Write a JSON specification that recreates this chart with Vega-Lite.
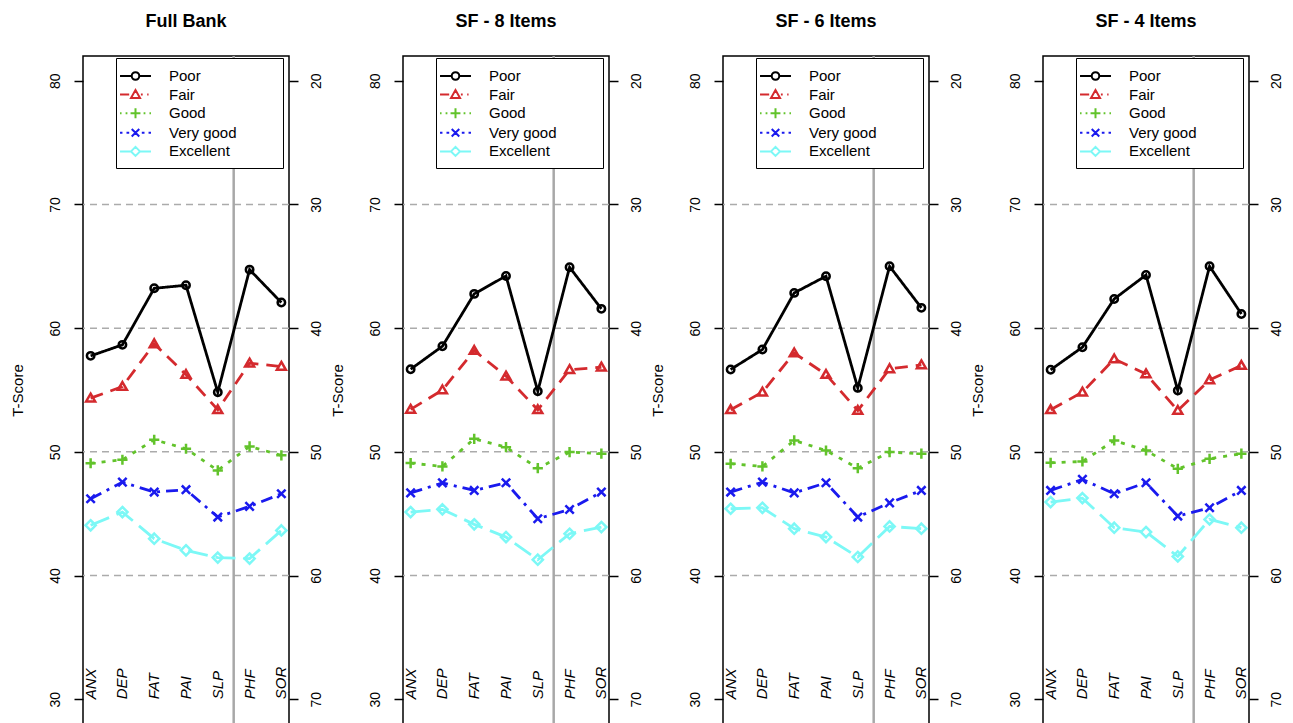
{
  "$schema": "https://vega.github.io/schema/vega-lite/v6.json",
  "background": "white",
  "padding": {"left": 9, "top": 12, "right": 5, "bottom": 0},
  "spacing": 4,
  "datasets": {
    "d": [
      {"p":"Full Bank","s":"Poor","k":"ANX","i":1,"t":57.76},{"p":"Full Bank","s":"Poor","k":"DEP","i":2,"t":58.65},{"p":"Full Bank","s":"Poor","k":"FAT","i":3,"t":63.22},{"p":"Full Bank","s":"Poor","k":"PAI","i":4,"t":63.47},{"p":"Full Bank","s":"Poor","k":"SLP","i":5,"t":54.82},{"p":"Full Bank","s":"Poor","k":"PHF","i":6,"t":64.73},{"p":"Full Bank","s":"Poor","k":"SOR","i":7,"t":62.07},
      {"p":"Full Bank","s":"Fair","k":"ANX","i":1,"t":54.34},{"p":"Full Bank","s":"Fair","k":"DEP","i":2,"t":55.28},{"p":"Full Bank","s":"Fair","k":"FAT","i":3,"t":58.73},{"p":"Full Bank","s":"Fair","k":"PAI","i":4,"t":56.25},{"p":"Full Bank","s":"Fair","k":"SLP","i":5,"t":53.40},{"p":"Full Bank","s":"Fair","k":"PHF","i":6,"t":57.17},{"p":"Full Bank","s":"Fair","k":"SOR","i":7,"t":56.90},
      {"p":"Full Bank","s":"Good","k":"ANX","i":1,"t":49.08},{"p":"Full Bank","s":"Good","k":"DEP","i":2,"t":49.36},{"p":"Full Bank","s":"Good","k":"FAT","i":3,"t":50.98},{"p":"Full Bank","s":"Good","k":"PAI","i":4,"t":50.25},{"p":"Full Bank","s":"Good","k":"SLP","i":5,"t":48.50},{"p":"Full Bank","s":"Good","k":"PHF","i":6,"t":50.44},{"p":"Full Bank","s":"Good","k":"SOR","i":7,"t":49.72},
      {"p":"Full Bank","s":"Very good","k":"ANX","i":1,"t":46.21},{"p":"Full Bank","s":"Very good","k":"DEP","i":2,"t":47.55},{"p":"Full Bank","s":"Very good","k":"FAT","i":3,"t":46.75},{"p":"Full Bank","s":"Very good","k":"PAI","i":4,"t":46.94},{"p":"Full Bank","s":"Very good","k":"SLP","i":5,"t":44.73},{"p":"Full Bank","s":"Very good","k":"PHF","i":6,"t":45.59},{"p":"Full Bank","s":"Very good","k":"SOR","i":7,"t":46.61},
      {"p":"Full Bank","s":"Excellent","k":"ANX","i":1,"t":44.06},{"p":"Full Bank","s":"Excellent","k":"DEP","i":2,"t":45.13},{"p":"Full Bank","s":"Excellent","k":"FAT","i":3,"t":42.98},{"p":"Full Bank","s":"Excellent","k":"PAI","i":4,"t":42.04},{"p":"Full Bank","s":"Excellent","k":"SLP","i":5,"t":41.45},{"p":"Full Bank","s":"Excellent","k":"PHF","i":6,"t":41.37},{"p":"Full Bank","s":"Excellent","k":"SOR","i":7,"t":43.65},

      {"p":"SF - 8 Items","s":"Poor","k":"ANX","i":1,"t":56.68},{"p":"SF - 8 Items","s":"Poor","k":"DEP","i":2,"t":58.54},{"p":"SF - 8 Items","s":"Poor","k":"FAT","i":3,"t":62.77},{"p":"SF - 8 Items","s":"Poor","k":"PAI","i":4,"t":64.22},{"p":"SF - 8 Items","s":"Poor","k":"SLP","i":5,"t":54.90},{"p":"SF - 8 Items","s":"Poor","k":"PHF","i":6,"t":64.92},{"p":"SF - 8 Items","s":"Poor","k":"SOR","i":7,"t":61.56},
      {"p":"SF - 8 Items","s":"Fair","k":"ANX","i":1,"t":53.43},{"p":"SF - 8 Items","s":"Fair","k":"DEP","i":2,"t":55.00},{"p":"SF - 8 Items","s":"Fair","k":"FAT","i":3,"t":58.19},{"p":"SF - 8 Items","s":"Fair","k":"PAI","i":4,"t":56.12},{"p":"SF - 8 Items","s":"Fair","k":"SLP","i":5,"t":53.40},{"p":"SF - 8 Items","s":"Fair","k":"PHF","i":6,"t":56.64},{"p":"SF - 8 Items","s":"Fair","k":"SOR","i":7,"t":56.84},
      {"p":"SF - 8 Items","s":"Good","k":"ANX","i":1,"t":49.09},{"p":"SF - 8 Items","s":"Good","k":"DEP","i":2,"t":48.82},{"p":"SF - 8 Items","s":"Good","k":"FAT","i":3,"t":51.05},{"p":"SF - 8 Items","s":"Good","k":"PAI","i":4,"t":50.38},{"p":"SF - 8 Items","s":"Good","k":"SLP","i":5,"t":48.68},{"p":"SF - 8 Items","s":"Good","k":"PHF","i":6,"t":49.98},{"p":"SF - 8 Items","s":"Good","k":"SOR","i":7,"t":49.85},
      {"p":"SF - 8 Items","s":"Very good","k":"ANX","i":1,"t":46.68},{"p":"SF - 8 Items","s":"Very good","k":"DEP","i":2,"t":47.49},{"p":"SF - 8 Items","s":"Very good","k":"FAT","i":3,"t":46.88},{"p":"SF - 8 Items","s":"Very good","k":"PAI","i":4,"t":47.50},{"p":"SF - 8 Items","s":"Very good","k":"SLP","i":5,"t":44.59},{"p":"SF - 8 Items","s":"Very good","k":"PHF","i":6,"t":45.34},{"p":"SF - 8 Items","s":"Very good","k":"SOR","i":7,"t":46.75},
      {"p":"SF - 8 Items","s":"Excellent","k":"ANX","i":1,"t":45.13},{"p":"SF - 8 Items","s":"Excellent","k":"DEP","i":2,"t":45.35},{"p":"SF - 8 Items","s":"Excellent","k":"FAT","i":3,"t":44.14},{"p":"SF - 8 Items","s":"Excellent","k":"PAI","i":4,"t":43.11},{"p":"SF - 8 Items","s":"Excellent","k":"SLP","i":5,"t":41.28},{"p":"SF - 8 Items","s":"Excellent","k":"PHF","i":6,"t":43.38},{"p":"SF - 8 Items","s":"Excellent","k":"SOR","i":7,"t":43.92},

      {"p":"SF - 6 Items","s":"Poor","k":"ANX","i":1,"t":56.66},{"p":"SF - 6 Items","s":"Poor","k":"DEP","i":2,"t":58.27},{"p":"SF - 6 Items","s":"Poor","k":"FAT","i":3,"t":62.85},{"p":"SF - 6 Items","s":"Poor","k":"PAI","i":4,"t":64.20},{"p":"SF - 6 Items","s":"Poor","k":"SLP","i":5,"t":55.17},{"p":"SF - 6 Items","s":"Poor","k":"PHF","i":6,"t":65.00},{"p":"SF - 6 Items","s":"Poor","k":"SOR","i":7,"t":61.64},
      {"p":"SF - 6 Items","s":"Fair","k":"ANX","i":1,"t":53.40},{"p":"SF - 6 Items","s":"Fair","k":"DEP","i":2,"t":54.82},{"p":"SF - 6 Items","s":"Fair","k":"FAT","i":3,"t":57.99},{"p":"SF - 6 Items","s":"Fair","k":"PAI","i":4,"t":56.25},{"p":"SF - 6 Items","s":"Fair","k":"SLP","i":5,"t":53.34},{"p":"SF - 6 Items","s":"Fair","k":"PHF","i":6,"t":56.71},{"p":"SF - 6 Items","s":"Fair","k":"SOR","i":7,"t":57.03},
      {"p":"SF - 6 Items","s":"Good","k":"ANX","i":1,"t":49.04},{"p":"SF - 6 Items","s":"Good","k":"DEP","i":2,"t":48.82},{"p":"SF - 6 Items","s":"Good","k":"FAT","i":3,"t":50.92},{"p":"SF - 6 Items","s":"Good","k":"PAI","i":4,"t":50.11},{"p":"SF - 6 Items","s":"Good","k":"SLP","i":5,"t":48.68},{"p":"SF - 6 Items","s":"Good","k":"PHF","i":6,"t":49.98},{"p":"SF - 6 Items","s":"Good","k":"SOR","i":7,"t":49.85},
      {"p":"SF - 6 Items","s":"Very good","k":"ANX","i":1,"t":46.75},{"p":"SF - 6 Items","s":"Very good","k":"DEP","i":2,"t":47.55},{"p":"SF - 6 Items","s":"Very good","k":"FAT","i":3,"t":46.68},{"p":"SF - 6 Items","s":"Very good","k":"PAI","i":4,"t":47.50},{"p":"SF - 6 Items","s":"Very good","k":"SLP","i":5,"t":44.73},{"p":"SF - 6 Items","s":"Very good","k":"PHF","i":6,"t":45.88},{"p":"SF - 6 Items","s":"Very good","k":"SOR","i":7,"t":46.88},
      {"p":"SF - 6 Items","s":"Excellent","k":"ANX","i":1,"t":45.40},{"p":"SF - 6 Items","s":"Excellent","k":"DEP","i":2,"t":45.48},{"p":"SF - 6 Items","s":"Excellent","k":"FAT","i":3,"t":43.79},{"p":"SF - 6 Items","s":"Excellent","k":"PAI","i":4,"t":43.11},{"p":"SF - 6 Items","s":"Excellent","k":"SLP","i":5,"t":41.50},{"p":"SF - 6 Items","s":"Excellent","k":"PHF","i":6,"t":43.97},{"p":"SF - 6 Items","s":"Excellent","k":"SOR","i":7,"t":43.79},

      {"p":"SF - 4 Items","s":"Poor","k":"ANX","i":1,"t":56.63},{"p":"SF - 4 Items","s":"Poor","k":"DEP","i":2,"t":58.46},{"p":"SF - 4 Items","s":"Poor","k":"FAT","i":3,"t":62.36},{"p":"SF - 4 Items","s":"Poor","k":"PAI","i":4,"t":64.30},{"p":"SF - 4 Items","s":"Poor","k":"SLP","i":5,"t":54.96},{"p":"SF - 4 Items","s":"Poor","k":"PHF","i":6,"t":65.00},{"p":"SF - 4 Items","s":"Poor","k":"SOR","i":7,"t":61.15},
      {"p":"SF - 4 Items","s":"Fair","k":"ANX","i":1,"t":53.40},{"p":"SF - 4 Items","s":"Fair","k":"DEP","i":2,"t":54.82},{"p":"SF - 4 Items","s":"Fair","k":"FAT","i":3,"t":57.50},{"p":"SF - 4 Items","s":"Fair","k":"PAI","i":4,"t":56.30},{"p":"SF - 4 Items","s":"Fair","k":"SLP","i":5,"t":53.34},{"p":"SF - 4 Items","s":"Fair","k":"PHF","i":6,"t":55.82},{"p":"SF - 4 Items","s":"Fair","k":"SOR","i":7,"t":56.98},
      {"p":"SF - 4 Items","s":"Good","k":"ANX","i":1,"t":49.12},{"p":"SF - 4 Items","s":"Good","k":"DEP","i":2,"t":49.22},{"p":"SF - 4 Items","s":"Good","k":"FAT","i":3,"t":50.92},{"p":"SF - 4 Items","s":"Good","k":"PAI","i":4,"t":50.11},{"p":"SF - 4 Items","s":"Good","k":"SLP","i":5,"t":48.63},{"p":"SF - 4 Items","s":"Good","k":"PHF","i":6,"t":49.44},{"p":"SF - 4 Items","s":"Good","k":"SOR","i":7,"t":49.85},
      {"p":"SF - 4 Items","s":"Very good","k":"ANX","i":1,"t":46.88},{"p":"SF - 4 Items","s":"Very good","k":"DEP","i":2,"t":47.77},{"p":"SF - 4 Items","s":"Very good","k":"FAT","i":3,"t":46.61},{"p":"SF - 4 Items","s":"Very good","k":"PAI","i":4,"t":47.50},{"p":"SF - 4 Items","s":"Very good","k":"SLP","i":5,"t":44.81},{"p":"SF - 4 Items","s":"Very good","k":"PHF","i":6,"t":45.48},{"p":"SF - 4 Items","s":"Very good","k":"SOR","i":7,"t":46.88},
      {"p":"SF - 4 Items","s":"Excellent","k":"ANX","i":1,"t":45.94},{"p":"SF - 4 Items","s":"Excellent","k":"DEP","i":2,"t":46.26},{"p":"SF - 4 Items","s":"Excellent","k":"FAT","i":3,"t":43.87},{"p":"SF - 4 Items","s":"Excellent","k":"PAI","i":4,"t":43.52},{"p":"SF - 4 Items","s":"Excellent","k":"SLP","i":5,"t":41.55},{"p":"SF - 4 Items","s":"Excellent","k":"PHF","i":6,"t":44.54},{"p":"SF - 4 Items","s":"Excellent","k":"SOR","i":7,"t":43.87}
    ]
  },
  "hconcat": [
    {
      "title": {"text": "Full Bank"},
      "width": 206, "height": 668,
      "layer": [
        {"data": {"values": [{"g":40},{"g":50},{"g":60},{"g":70}]},
         "mark": {"type":"rule","color":"#ABABAB","strokeWidth":1.5,"strokeDash":[7,5]},
         "encoding": {"y": {"field":"g","type":"quantitative","scale":{"domain":[28,82],"nice":false,"zero":false},"axis":null}}},
        {"data": {"values": [{"v":5.5}]},
         "mark": {"type":"rule","color":"#A8A8A8","strokeWidth":2.5},
         "encoding": {"x": {"field":"v","type":"quantitative","scale":{"domain":[0.76,7.24],"nice":false,"zero":false},"axis":null}}},
        {"data": {"name":"d"},
         "transform":[{"filter":"datum.p == 'Full Bank'"}],
         "layer": [
           {"mark": {"type":"line","strokeWidth":2.8},
            "encoding": {
              "x": {"field":"i","type":"quantitative","scale":{"domain":[0.76,7.24],"nice":false,"zero":false},"axis":null},
              "y": {"field":"t","type":"quantitative","scale":{"domain":[28,82],"nice":false,"zero":false},
                    "axis":{"orient":"left","values":[30,40,50,60,70,80],"title":"T-Score","titleAngle":270,"titleBaseline":"alphabetic","titlePadding":21,"minExtent":40,"maxExtent":40}},
              "color": {"field":"s","type":"nominal","scale":{"domain":["Poor","Fair","Good","Very good","Excellent"],"range":["#000000","#D42A2E","#62C32B","#1A1AEE","#7CF8F6"]},"legend":null},
              "strokeDash": {"field":"s","type":"nominal","scale":{"domain":["Poor","Fair","Good","Very good","Excellent"],"range":[[1,0],[13,8],[4,7],[12,6,3,6],[20,8]]},"legend":null}
            }},
           {"mark": {"type":"point","filled":false,"strokeWidth":2.5,"size":144,"opacity":1},
            "encoding": {
              "x": {"field":"i","type":"quantitative"},
              "y": {"field":"t","type":"quantitative",
                    "axis":{"orient":"left","values":[30,40,50,60,70,80],"title":"T-Score","titleAngle":270,"titleBaseline":"alphabetic","titlePadding":21,"minExtent":40,"maxExtent":40}},
              "color": {"field":"s","type":"nominal","legend":null},
              "shape": {"field":"s","type":"nominal","scale":{"domain":["Poor","Fair","Good","Very good","Excellent"],"range":["M0.62,0A0.62,0.62 0 1,1 -0.62,0A0.62,0.62 0 1,1 0.62,0Z","M0,-0.75L0.75,0.55L-0.75,0.55Z","M-0.85,0L0.85,0M0,-0.85L0,0.85","M-0.7,-0.7L0.7,0.7M-0.7,0.7L0.7,-0.7","M0,-0.85L0.85,0L0,0.85L-0.85,0Z"]},"legend":null}
            }},
           {"transform": [{"filter":"datum.s == 'Poor'"}],
            "mark": {"type":"text","angle":270,"align":"left","baseline":"middle","fontSize":15,"fontStyle":"italic","font":"Liberation Sans","color":"black"},
            "encoding": {
              "x": {"field":"i","type":"quantitative"},
              "y": {"datum":30,"type":"quantitative",
                    "axis":{"orient":"left","values":[30,40,50,60,70,80],"title":"T-Score","titleAngle":270,"titleBaseline":"alphabetic","titlePadding":21,"minExtent":40,"maxExtent":40}},
              "text": {"field":"k","type":"nominal"}
            }}
         ]},
        {"data": {"name":"d"},
         "transform":[{"filter":"datum.p == 'Full Bank'"}],
         "mark": {"type":"point","filled":false,"opacity":0,"strokeWidth":2},
         "encoding": {
           "x": {"field":"i","type":"quantitative"},
           "y": {"field":"t","type":"quantitative","scale":{"domain":[28,82],"nice":false,"zero":false},"axis":null},
           "color": {"field":"s","type":"nominal","scale":{"domain":["Poor","Fair","Good","Very good","Excellent"],"range":["#000000","#D42A2E","#62C32B","#1A1AEE","#7CF8F6"]},
                     "legend":{"title":"m","titleOrient":"right","titlePadding":24,"titleColor":"#ffffff","orient":"none","legendX":33,"legendY":2}},
           "shape": {"field":"s","type":"nominal","scale":{"domain":["Poor","Fair","Good","Very good","Excellent"],"range":[
              "M-1.72,0L-0.42,0M0.42,0L1.72,0M0.42,0A0.42,0.42 0 1,1 -0.42,0A0.42,0.42 0 1,1 0.42,0Z",
              "M-1.72,0L-0.7,0M0.6,0L0.8,0M1.3,0L1.45,0M0,-0.5L0.5,0.38L-0.5,0.38Z",
              "M-1.72,0L-1.55,0M-1.1,0L-0.9,0M0.9,0L1.1,0M1.55,0L1.72,0M-0.55,0L0.55,0M0,-0.55L0,0.55",
              "M-1.72,0L-1.45,0M-1.0,0L-0.7,0M0.7,0L1.0,0M1.45,0L1.72,0M-0.42,-0.42L0.42,0.42M-0.42,0.42L0.42,-0.42",
              "M-1.72,0L-0.5,0M0.5,0L1.72,0M0,-0.5L0.5,0L0,0.5L-0.5,0Z"]},
                     "legend":{"title":"m","titleOrient":"right","titlePadding":24,"titleColor":"#ffffff","orient":"none","legendX":33,"legendY":2}}
         }},
        {"data": {"values": [{"r":20}]},
         "mark": {"type":"rule","opacity":0},
         "encoding": {"y": {"field":"r","type":"quantitative","scale":{"domain":[18,72],"reverse":true,"nice":false,"zero":false},
                            "axis":{"orient":"right","values":[20,30,40,50,60,70],"title":null}}}}
      ],
      "resolve": {"scale": {"y":"independent","color":"independent","shape":"independent"}}
    },
    {
      "title": {"text": "SF - 8 Items"},
      "width": 206, "height": 668,
      "layer": [
        {"data": {"values": [{"g":40},{"g":50},{"g":60},{"g":70}]},
         "mark": {"type":"rule","color":"#ABABAB","strokeWidth":1.5,"strokeDash":[7,5]},
         "encoding": {"y": {"field":"g","type":"quantitative","scale":{"domain":[28,82],"nice":false,"zero":false},"axis":null}}},
        {"data": {"values": [{"v":5.5}]},
         "mark": {"type":"rule","color":"#A8A8A8","strokeWidth":2.5},
         "encoding": {"x": {"field":"v","type":"quantitative","scale":{"domain":[0.76,7.24],"nice":false,"zero":false},"axis":null}}},
        {"data": {"name":"d"},
         "transform":[{"filter":"datum.p == 'SF - 8 Items'"}],
         "layer": [
           {"mark": {"type":"line","strokeWidth":2.8},
            "encoding": {
              "x": {"field":"i","type":"quantitative","scale":{"domain":[0.76,7.24],"nice":false,"zero":false},"axis":null},
              "y": {"field":"t","type":"quantitative","scale":{"domain":[28,82],"nice":false,"zero":false},
                    "axis":{"orient":"left","values":[30,40,50,60,70,80],"title":"T-Score","titleAngle":270,"titleBaseline":"alphabetic","titlePadding":21,"minExtent":40,"maxExtent":40}},
              "color": {"field":"s","type":"nominal","scale":{"domain":["Poor","Fair","Good","Very good","Excellent"],"range":["#000000","#D42A2E","#62C32B","#1A1AEE","#7CF8F6"]},"legend":null},
              "strokeDash": {"field":"s","type":"nominal","scale":{"domain":["Poor","Fair","Good","Very good","Excellent"],"range":[[1,0],[13,8],[4,7],[12,6,3,6],[20,8]]},"legend":null}
            }},
           {"mark": {"type":"point","filled":false,"strokeWidth":2.5,"size":144,"opacity":1},
            "encoding": {
              "x": {"field":"i","type":"quantitative"},
              "y": {"field":"t","type":"quantitative",
                    "axis":{"orient":"left","values":[30,40,50,60,70,80],"title":"T-Score","titleAngle":270,"titleBaseline":"alphabetic","titlePadding":21,"minExtent":40,"maxExtent":40}},
              "color": {"field":"s","type":"nominal","legend":null},
              "shape": {"field":"s","type":"nominal","scale":{"domain":["Poor","Fair","Good","Very good","Excellent"],"range":["M0.62,0A0.62,0.62 0 1,1 -0.62,0A0.62,0.62 0 1,1 0.62,0Z","M0,-0.75L0.75,0.55L-0.75,0.55Z","M-0.85,0L0.85,0M0,-0.85L0,0.85","M-0.7,-0.7L0.7,0.7M-0.7,0.7L0.7,-0.7","M0,-0.85L0.85,0L0,0.85L-0.85,0Z"]},"legend":null}
            }},
           {"transform": [{"filter":"datum.s == 'Poor'"}],
            "mark": {"type":"text","angle":270,"align":"left","baseline":"middle","fontSize":15,"fontStyle":"italic","font":"Liberation Sans","color":"black"},
            "encoding": {
              "x": {"field":"i","type":"quantitative"},
              "y": {"datum":30,"type":"quantitative",
                    "axis":{"orient":"left","values":[30,40,50,60,70,80],"title":"T-Score","titleAngle":270,"titleBaseline":"alphabetic","titlePadding":21,"minExtent":40,"maxExtent":40}},
              "text": {"field":"k","type":"nominal"}
            }}
         ]},
        {"data": {"name":"d"},
         "transform":[{"filter":"datum.p == 'SF - 8 Items'"}],
         "mark": {"type":"point","filled":false,"opacity":0,"strokeWidth":2},
         "encoding": {
           "x": {"field":"i","type":"quantitative"},
           "y": {"field":"t","type":"quantitative","scale":{"domain":[28,82],"nice":false,"zero":false},"axis":null},
           "color": {"field":"s","type":"nominal","scale":{"domain":["Poor","Fair","Good","Very good","Excellent"],"range":["#000000","#D42A2E","#62C32B","#1A1AEE","#7CF8F6"]},
                     "legend":{"title":"m","titleOrient":"right","titlePadding":24,"titleColor":"#ffffff","orient":"none","legendX":33,"legendY":2}},
           "shape": {"field":"s","type":"nominal","scale":{"domain":["Poor","Fair","Good","Very good","Excellent"],"range":[
              "M-1.72,0L-0.42,0M0.42,0L1.72,0M0.42,0A0.42,0.42 0 1,1 -0.42,0A0.42,0.42 0 1,1 0.42,0Z",
              "M-1.72,0L-0.7,0M0.6,0L0.8,0M1.3,0L1.45,0M0,-0.5L0.5,0.38L-0.5,0.38Z",
              "M-1.72,0L-1.55,0M-1.1,0L-0.9,0M0.9,0L1.1,0M1.55,0L1.72,0M-0.55,0L0.55,0M0,-0.55L0,0.55",
              "M-1.72,0L-1.45,0M-1.0,0L-0.7,0M0.7,0L1.0,0M1.45,0L1.72,0M-0.42,-0.42L0.42,0.42M-0.42,0.42L0.42,-0.42",
              "M-1.72,0L-0.5,0M0.5,0L1.72,0M0,-0.5L0.5,0L0,0.5L-0.5,0Z"]},
                     "legend":{"title":"m","titleOrient":"right","titlePadding":24,"titleColor":"#ffffff","orient":"none","legendX":33,"legendY":2}}
         }},
        {"data": {"values": [{"r":20}]},
         "mark": {"type":"rule","opacity":0},
         "encoding": {"y": {"field":"r","type":"quantitative","scale":{"domain":[18,72],"reverse":true,"nice":false,"zero":false},
                            "axis":{"orient":"right","values":[20,30,40,50,60,70],"title":null}}}}
      ],
      "resolve": {"scale": {"y":"independent","color":"independent","shape":"independent"}}
    },
    {
      "title": {"text": "SF - 6 Items"},
      "width": 206, "height": 668,
      "layer": [
        {"data": {"values": [{"g":40},{"g":50},{"g":60},{"g":70}]},
         "mark": {"type":"rule","color":"#ABABAB","strokeWidth":1.5,"strokeDash":[7,5]},
         "encoding": {"y": {"field":"g","type":"quantitative","scale":{"domain":[28,82],"nice":false,"zero":false},"axis":null}}},
        {"data": {"values": [{"v":5.5}]},
         "mark": {"type":"rule","color":"#A8A8A8","strokeWidth":2.5},
         "encoding": {"x": {"field":"v","type":"quantitative","scale":{"domain":[0.76,7.24],"nice":false,"zero":false},"axis":null}}},
        {"data": {"name":"d"},
         "transform":[{"filter":"datum.p == 'SF - 6 Items'"}],
         "layer": [
           {"mark": {"type":"line","strokeWidth":2.8},
            "encoding": {
              "x": {"field":"i","type":"quantitative","scale":{"domain":[0.76,7.24],"nice":false,"zero":false},"axis":null},
              "y": {"field":"t","type":"quantitative","scale":{"domain":[28,82],"nice":false,"zero":false},
                    "axis":{"orient":"left","values":[30,40,50,60,70,80],"title":"T-Score","titleAngle":270,"titleBaseline":"alphabetic","titlePadding":21,"minExtent":40,"maxExtent":40}},
              "color": {"field":"s","type":"nominal","scale":{"domain":["Poor","Fair","Good","Very good","Excellent"],"range":["#000000","#D42A2E","#62C32B","#1A1AEE","#7CF8F6"]},"legend":null},
              "strokeDash": {"field":"s","type":"nominal","scale":{"domain":["Poor","Fair","Good","Very good","Excellent"],"range":[[1,0],[13,8],[4,7],[12,6,3,6],[20,8]]},"legend":null}
            }},
           {"mark": {"type":"point","filled":false,"strokeWidth":2.5,"size":144,"opacity":1},
            "encoding": {
              "x": {"field":"i","type":"quantitative"},
              "y": {"field":"t","type":"quantitative",
                    "axis":{"orient":"left","values":[30,40,50,60,70,80],"title":"T-Score","titleAngle":270,"titleBaseline":"alphabetic","titlePadding":21,"minExtent":40,"maxExtent":40}},
              "color": {"field":"s","type":"nominal","legend":null},
              "shape": {"field":"s","type":"nominal","scale":{"domain":["Poor","Fair","Good","Very good","Excellent"],"range":["M0.62,0A0.62,0.62 0 1,1 -0.62,0A0.62,0.62 0 1,1 0.62,0Z","M0,-0.75L0.75,0.55L-0.75,0.55Z","M-0.85,0L0.85,0M0,-0.85L0,0.85","M-0.7,-0.7L0.7,0.7M-0.7,0.7L0.7,-0.7","M0,-0.85L0.85,0L0,0.85L-0.85,0Z"]},"legend":null}
            }},
           {"transform": [{"filter":"datum.s == 'Poor'"}],
            "mark": {"type":"text","angle":270,"align":"left","baseline":"middle","fontSize":15,"fontStyle":"italic","font":"Liberation Sans","color":"black"},
            "encoding": {
              "x": {"field":"i","type":"quantitative"},
              "y": {"datum":30,"type":"quantitative",
                    "axis":{"orient":"left","values":[30,40,50,60,70,80],"title":"T-Score","titleAngle":270,"titleBaseline":"alphabetic","titlePadding":21,"minExtent":40,"maxExtent":40}},
              "text": {"field":"k","type":"nominal"}
            }}
         ]},
        {"data": {"name":"d"},
         "transform":[{"filter":"datum.p == 'SF - 6 Items'"}],
         "mark": {"type":"point","filled":false,"opacity":0,"strokeWidth":2},
         "encoding": {
           "x": {"field":"i","type":"quantitative"},
           "y": {"field":"t","type":"quantitative","scale":{"domain":[28,82],"nice":false,"zero":false},"axis":null},
           "color": {"field":"s","type":"nominal","scale":{"domain":["Poor","Fair","Good","Very good","Excellent"],"range":["#000000","#D42A2E","#62C32B","#1A1AEE","#7CF8F6"]},
                     "legend":{"title":"m","titleOrient":"right","titlePadding":24,"titleColor":"#ffffff","orient":"none","legendX":33,"legendY":2}},
           "shape": {"field":"s","type":"nominal","scale":{"domain":["Poor","Fair","Good","Very good","Excellent"],"range":[
              "M-1.72,0L-0.42,0M0.42,0L1.72,0M0.42,0A0.42,0.42 0 1,1 -0.42,0A0.42,0.42 0 1,1 0.42,0Z",
              "M-1.72,0L-0.7,0M0.6,0L0.8,0M1.3,0L1.45,0M0,-0.5L0.5,0.38L-0.5,0.38Z",
              "M-1.72,0L-1.55,0M-1.1,0L-0.9,0M0.9,0L1.1,0M1.55,0L1.72,0M-0.55,0L0.55,0M0,-0.55L0,0.55",
              "M-1.72,0L-1.45,0M-1.0,0L-0.7,0M0.7,0L1.0,0M1.45,0L1.72,0M-0.42,-0.42L0.42,0.42M-0.42,0.42L0.42,-0.42",
              "M-1.72,0L-0.5,0M0.5,0L1.72,0M0,-0.5L0.5,0L0,0.5L-0.5,0Z"]},
                     "legend":{"title":"m","titleOrient":"right","titlePadding":24,"titleColor":"#ffffff","orient":"none","legendX":33,"legendY":2}}
         }},
        {"data": {"values": [{"r":20}]},
         "mark": {"type":"rule","opacity":0},
         "encoding": {"y": {"field":"r","type":"quantitative","scale":{"domain":[18,72],"reverse":true,"nice":false,"zero":false},
                            "axis":{"orient":"right","values":[20,30,40,50,60,70],"title":null}}}}
      ],
      "resolve": {"scale": {"y":"independent","color":"independent","shape":"independent"}}
    },
    {
      "title": {"text": "SF - 4 Items"},
      "width": 206, "height": 668,
      "layer": [
        {"data": {"values": [{"g":40},{"g":50},{"g":60},{"g":70}]},
         "mark": {"type":"rule","color":"#ABABAB","strokeWidth":1.5,"strokeDash":[7,5]},
         "encoding": {"y": {"field":"g","type":"quantitative","scale":{"domain":[28,82],"nice":false,"zero":false},"axis":null}}},
        {"data": {"values": [{"v":5.5}]},
         "mark": {"type":"rule","color":"#A8A8A8","strokeWidth":2.5},
         "encoding": {"x": {"field":"v","type":"quantitative","scale":{"domain":[0.76,7.24],"nice":false,"zero":false},"axis":null}}},
        {"data": {"name":"d"},
         "transform":[{"filter":"datum.p == 'SF - 4 Items'"}],
         "layer": [
           {"mark": {"type":"line","strokeWidth":2.8},
            "encoding": {
              "x": {"field":"i","type":"quantitative","scale":{"domain":[0.76,7.24],"nice":false,"zero":false},"axis":null},
              "y": {"field":"t","type":"quantitative","scale":{"domain":[28,82],"nice":false,"zero":false},
                    "axis":{"orient":"left","values":[30,40,50,60,70,80],"title":"T-Score","titleAngle":270,"titleBaseline":"alphabetic","titlePadding":21,"minExtent":40,"maxExtent":40}},
              "color": {"field":"s","type":"nominal","scale":{"domain":["Poor","Fair","Good","Very good","Excellent"],"range":["#000000","#D42A2E","#62C32B","#1A1AEE","#7CF8F6"]},"legend":null},
              "strokeDash": {"field":"s","type":"nominal","scale":{"domain":["Poor","Fair","Good","Very good","Excellent"],"range":[[1,0],[13,8],[4,7],[12,6,3,6],[20,8]]},"legend":null}
            }},
           {"mark": {"type":"point","filled":false,"strokeWidth":2.5,"size":144,"opacity":1},
            "encoding": {
              "x": {"field":"i","type":"quantitative"},
              "y": {"field":"t","type":"quantitative",
                    "axis":{"orient":"left","values":[30,40,50,60,70,80],"title":"T-Score","titleAngle":270,"titleBaseline":"alphabetic","titlePadding":21,"minExtent":40,"maxExtent":40}},
              "color": {"field":"s","type":"nominal","legend":null},
              "shape": {"field":"s","type":"nominal","scale":{"domain":["Poor","Fair","Good","Very good","Excellent"],"range":["M0.62,0A0.62,0.62 0 1,1 -0.62,0A0.62,0.62 0 1,1 0.62,0Z","M0,-0.75L0.75,0.55L-0.75,0.55Z","M-0.85,0L0.85,0M0,-0.85L0,0.85","M-0.7,-0.7L0.7,0.7M-0.7,0.7L0.7,-0.7","M0,-0.85L0.85,0L0,0.85L-0.85,0Z"]},"legend":null}
            }},
           {"transform": [{"filter":"datum.s == 'Poor'"}],
            "mark": {"type":"text","angle":270,"align":"left","baseline":"middle","fontSize":15,"fontStyle":"italic","font":"Liberation Sans","color":"black"},
            "encoding": {
              "x": {"field":"i","type":"quantitative"},
              "y": {"datum":30,"type":"quantitative",
                    "axis":{"orient":"left","values":[30,40,50,60,70,80],"title":"T-Score","titleAngle":270,"titleBaseline":"alphabetic","titlePadding":21,"minExtent":40,"maxExtent":40}},
              "text": {"field":"k","type":"nominal"}
            }}
         ]},
        {"data": {"name":"d"},
         "transform":[{"filter":"datum.p == 'SF - 4 Items'"}],
         "mark": {"type":"point","filled":false,"opacity":0,"strokeWidth":2},
         "encoding": {
           "x": {"field":"i","type":"quantitative"},
           "y": {"field":"t","type":"quantitative","scale":{"domain":[28,82],"nice":false,"zero":false},"axis":null},
           "color": {"field":"s","type":"nominal","scale":{"domain":["Poor","Fair","Good","Very good","Excellent"],"range":["#000000","#D42A2E","#62C32B","#1A1AEE","#7CF8F6"]},
                     "legend":{"title":"m","titleOrient":"right","titlePadding":24,"titleColor":"#ffffff","orient":"none","legendX":33,"legendY":2}},
           "shape": {"field":"s","type":"nominal","scale":{"domain":["Poor","Fair","Good","Very good","Excellent"],"range":[
              "M-1.72,0L-0.42,0M0.42,0L1.72,0M0.42,0A0.42,0.42 0 1,1 -0.42,0A0.42,0.42 0 1,1 0.42,0Z",
              "M-1.72,0L-0.7,0M0.6,0L0.8,0M1.3,0L1.45,0M0,-0.5L0.5,0.38L-0.5,0.38Z",
              "M-1.72,0L-1.55,0M-1.1,0L-0.9,0M0.9,0L1.1,0M1.55,0L1.72,0M-0.55,0L0.55,0M0,-0.55L0,0.55",
              "M-1.72,0L-1.45,0M-1.0,0L-0.7,0M0.7,0L1.0,0M1.45,0L1.72,0M-0.42,-0.42L0.42,0.42M-0.42,0.42L0.42,-0.42",
              "M-1.72,0L-0.5,0M0.5,0L1.72,0M0,-0.5L0.5,0L0,0.5L-0.5,0Z"]},
                     "legend":{"title":"m","titleOrient":"right","titlePadding":24,"titleColor":"#ffffff","orient":"none","legendX":33,"legendY":2}}
         }},
        {"data": {"values": [{"r":20}]},
         "mark": {"type":"rule","opacity":0},
         "encoding": {"y": {"field":"r","type":"quantitative","scale":{"domain":[18,72],"reverse":true,"nice":false,"zero":false},
                            "axis":{"orient":"right","values":[20,30,40,50,60,70],"title":null}}}}
      ],
      "resolve": {"scale": {"y":"independent","color":"independent","shape":"independent"}}
    }
  ],
  "config": {
    "font": "Liberation Sans",
    "view": {"stroke": "black", "strokeWidth": 1.5},
    "axis": {
      "domain": false, "grid": false, "ticks": true,
      "tickColor": "black", "tickWidth": 1.5, "tickSize": 9,
      "labelFont": "Liberation Sans", "labelFontSize": 14, "labelColor": "black",
      "labelAngle": 270, "labelAlign": "center", "labelBaseline": "middle", "labelPadding": 18.5,
      "titleFont": "Liberation Sans", "titleFontSize": 15, "titleFontWeight": "normal", "titleColor": "black"
    },
    "title": {"font": "Liberation Sans", "fontSize": 18, "fontWeight": "bold", "anchor": "middle", "frame": "group", "offset": 24, "baseline": "alphabetic", "color": "black"},
    "legend": {
      "labelFont": "Liberation Sans", "labelFontSize": 15, "labelColor": "black",
      "titleFont": "Liberation Sans", "titleFontSize": 15,
      "symbolSize": 324, "symbolStrokeWidth": 2, "symbolOpacity": 1,
      "padding": 8, "rowPadding": 0.6, "symbolOffset": 1.5, "labelOffset": 23.5,
      "strokeColor": "black", "fillColor": "white"
    }
  }
}
